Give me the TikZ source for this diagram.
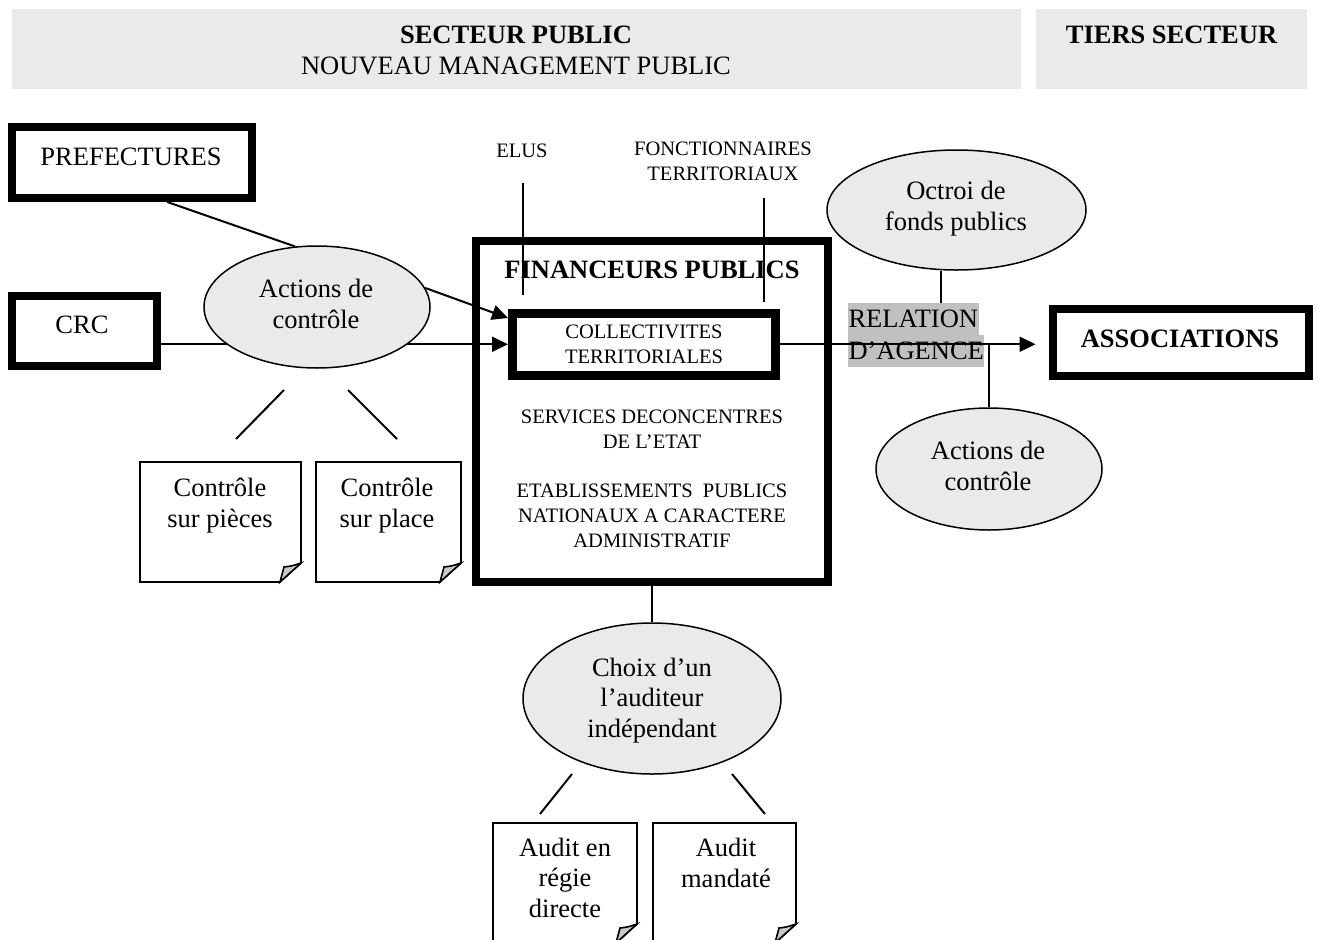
\documentclass[tikz,border=0pt]{standalone}
\usepackage{fontspec}
\setmainfont{Liberation Serif}
\usetikzlibrary{arrows.meta,shapes.geometric,calc}
\definecolor{hdrgray}{HTML}{EAEAEA}
\definecolor{ellgray}{HTML}{EAEAEA}
\definecolor{hlgray}{HTML}{C0C0C0}
\definecolor{foldgray}{HTML}{C8C8C8}
\newcommand\fbig{\fontsize{26.5}{30.2}\selectfont}
\newcommand\fsmall{\fontsize{20.5}{24.6}\selectfont}
\newcommand\drawdoc[1]{%
  \draw[docln] (#1.north west) -- (#1.north east) -- ([yshift=19pt]#1.south east)
    -- ([xshift=-21pt]#1.south east) -- (#1.south west) -- cycle;
  \filldraw[docln, fill=foldgray] ([xshift=-21pt]#1.south east)
    .. controls ([xshift=-19pt,yshift=7pt]#1.south east) .. ([xshift=-17pt,yshift=15pt]#1.south east)
    .. controls ([xshift=-9pt,yshift=16pt]#1.south east) .. ([yshift=19pt]#1.south east) -- cycle;
}
\begin{document}
\begin{tikzpicture}[x=1pt,y=-1pt,
  tbox/.style={draw, line width=8pt, inner sep=0pt},
  ell/.style={ellipse, draw, fill=ellgray, line width=1.5pt, inner sep=0pt},
  ln/.style={line width=2pt},
  docln/.style={line width=1.6pt, line join=miter},
  arr/.style={line width=2pt, -{Triangle[length=16pt,width=15pt]}},
  bt/.style={font=\fbig, align=center, anchor=base, inner sep=0pt, outer sep=0pt},
  st/.style={font=\fsmall, align=center, anchor=base, inner sep=0pt, outer sep=0pt},
  hl/.style={font=\fbig, fill=hlgray, anchor=base west, inner xsep=0.5pt, inner ysep=0pt, outer sep=0pt, text height=24pt, text depth=8pt},
  docbox/.style={inner sep=0pt, outer sep=0pt}
]
\useasboundingbox (0,0) rectangle (1318,940);
\clip (0,0) rectangle (1318,940);

% header
\node[fill=hdrgray, minimum width=1009pt, minimum height=80pt, inner sep=0pt] (hdrL) at (516.5,49) {};
\node[fill=hdrgray, minimum width=271pt, minimum height=80pt, inner sep=0pt] (hdrR) at (1171.5,49) {};
\node[bt, font=\fbig\bfseries] (hdrT1) at (516,43) {SECTEUR PUBLIC};
\node[bt] (hdrT2) at (516,74) {NOUVEAU MANAGEMENT PUBLIC};
\node[bt, font=\fbig\bfseries] (hdrT3) at (1171.5,43) {TIERS SECTEUR};

% left boxes
\node[tbox, minimum width=240.5pt, minimum height=71pt] (pref) at (132,162.5) {};
\node[bt] (prefT) at (131,165) {PREFECTURES};
\node[tbox, minimum width=145.5pt, minimum height=70.5pt] (crc) at (84.25,330.75) {};
\node[bt] (crcT) at (82,333) {CRC};

% financeurs
\node[tbox, minimum width=352pt, minimum height=341pt] (fin) at (652,411.5) {};
\node[bt, font=\fbig\bfseries] (finT) at (652,278) {FINANCEURS PUBLICS};
\node[draw, line width=9pt, inner sep=0pt, minimum width=263pt, minimum height=61.5pt] (coll) at (644,344.25) {};
\node[st] (collT) at (644,363) {COLLECTIVITES\\TERRITORIALES};
\node[st] (serv) at (652,448) {SERVICES DECONCENTRES\\DE L’ETAT};
\node[st] (etab) at (652,547) {ETABLISSEMENTS\ \ PUBLICS\\NATIONAUX A CARACTERE\\ADMINISTRATIF};

% CRC arrow (under ellipse)
\draw[arr] (crc.east |- coll.west) -- (coll.west);

% left ellipse
\node[ell, minimum width=226pt, minimum height=122pt] (actL) at (317,307) {};
\node[bt] (actLT) at (316,328) {Actions de\\contrôle};
\draw[ln] ([xshift=159.5pt]pref.south west) -- (actL.110);
\draw[arr] (actL.10) -- ([yshift=-9pt]coll.north west);

% elus / fonctionnaires
\node[st] (elus) at (522,157) {ELUS};
\node[st] (fonc) at (723,180) {FONCTIONNAIRES\\TERRITORIAUX};
\coordinate (e1) at (523,183);
\coordinate (e2) at (523,295);
\coordinate (f1) at (764,198);
\coordinate (f2) at (764,302);
\draw[ln] (e1) -- (e2);
\draw[ln] (f1) -- (f2);

% associations side
\node[tbox, minimum width=256pt, minimum height=67pt] (asso) at (1180.5,342.5) {};
\node[bt, font=\fbig\bfseries] (assoT) at (1180,347) {ASSOCIATIONS};
\node[hl] (rel1) at (848,327) {RELATION};
\node[hl] (rel2) at (848,359) {D’AGENCE};
\draw[arr] (coll.east) -- ([xshift=-13pt]asso.west |- coll.east);

\node[ell, minimum width=259pt, minimum height=120pt] (octroi) at (956.5,210) {};
\node[bt] (octroiT) at (956,230) {Octroi de\\fonds publics};
\draw[ln] ([xshift=-16pt]octroi.south) -- ([xshift=-16pt]octroi.south |- rel1.north);

\node[ell, minimum width=226pt, minimum height=122pt] (actR) at (989,469) {};
\node[bt] (actRT) at (988,490) {Actions de\\contrôle};
\draw[ln] (actR.north) -- (actR.north |- coll.east);

% control documents
\coordinate (c1a) at (284,390);
\coordinate (c1b) at (236,439);
\coordinate (c2a) at (348,390);
\coordinate (c2b) at (397,439);
\draw[ln] (c1a) -- (c1b);
\draw[ln] (c2a) -- (c2b);
\node[docbox, minimum width=161pt, minimum height=120pt] (d1) at (220.5,522) {};
\node[docbox, minimum width=145pt, minimum height=120pt] (d2) at (388.5,522) {};
\drawdoc{d1}
\drawdoc{d2}
\node[bt] (d1T) at (220,527) {Contrôle\\sur pièces};
\node[bt] (d2T) at (387,527) {Contrôle\\sur place};

% auditor choice
\node[ell, minimum width=258pt, minimum height=151pt] (choix) at (652,698.5) {};
\node[bt] (choixT) at (652,737) {Choix d’un\\l’auditeur\\indépendant};
\draw[ln] (fin.south) -- (choix.north);
\coordinate (a1a) at (572,774);
\coordinate (a1b) at (540,814);
\coordinate (a2a) at (732,774);
\coordinate (a2b) at (765,814);
\draw[ln] (a1a) -- (a1b);
\draw[ln] (a2a) -- (a2b);
\node[docbox, minimum width=144pt, minimum height=120pt] (d3) at (565,883) {};
\node[docbox, minimum width=143pt, minimum height=120pt] (d4) at (724.5,883) {};
\drawdoc{d3}
\drawdoc{d4}
\node[bt] (d3T) at (565,917) {Audit en\\régie\\directe};
\node[bt] (d4T) at (726,887) {Audit\\mandaté};
\end{tikzpicture}
\end{document}
